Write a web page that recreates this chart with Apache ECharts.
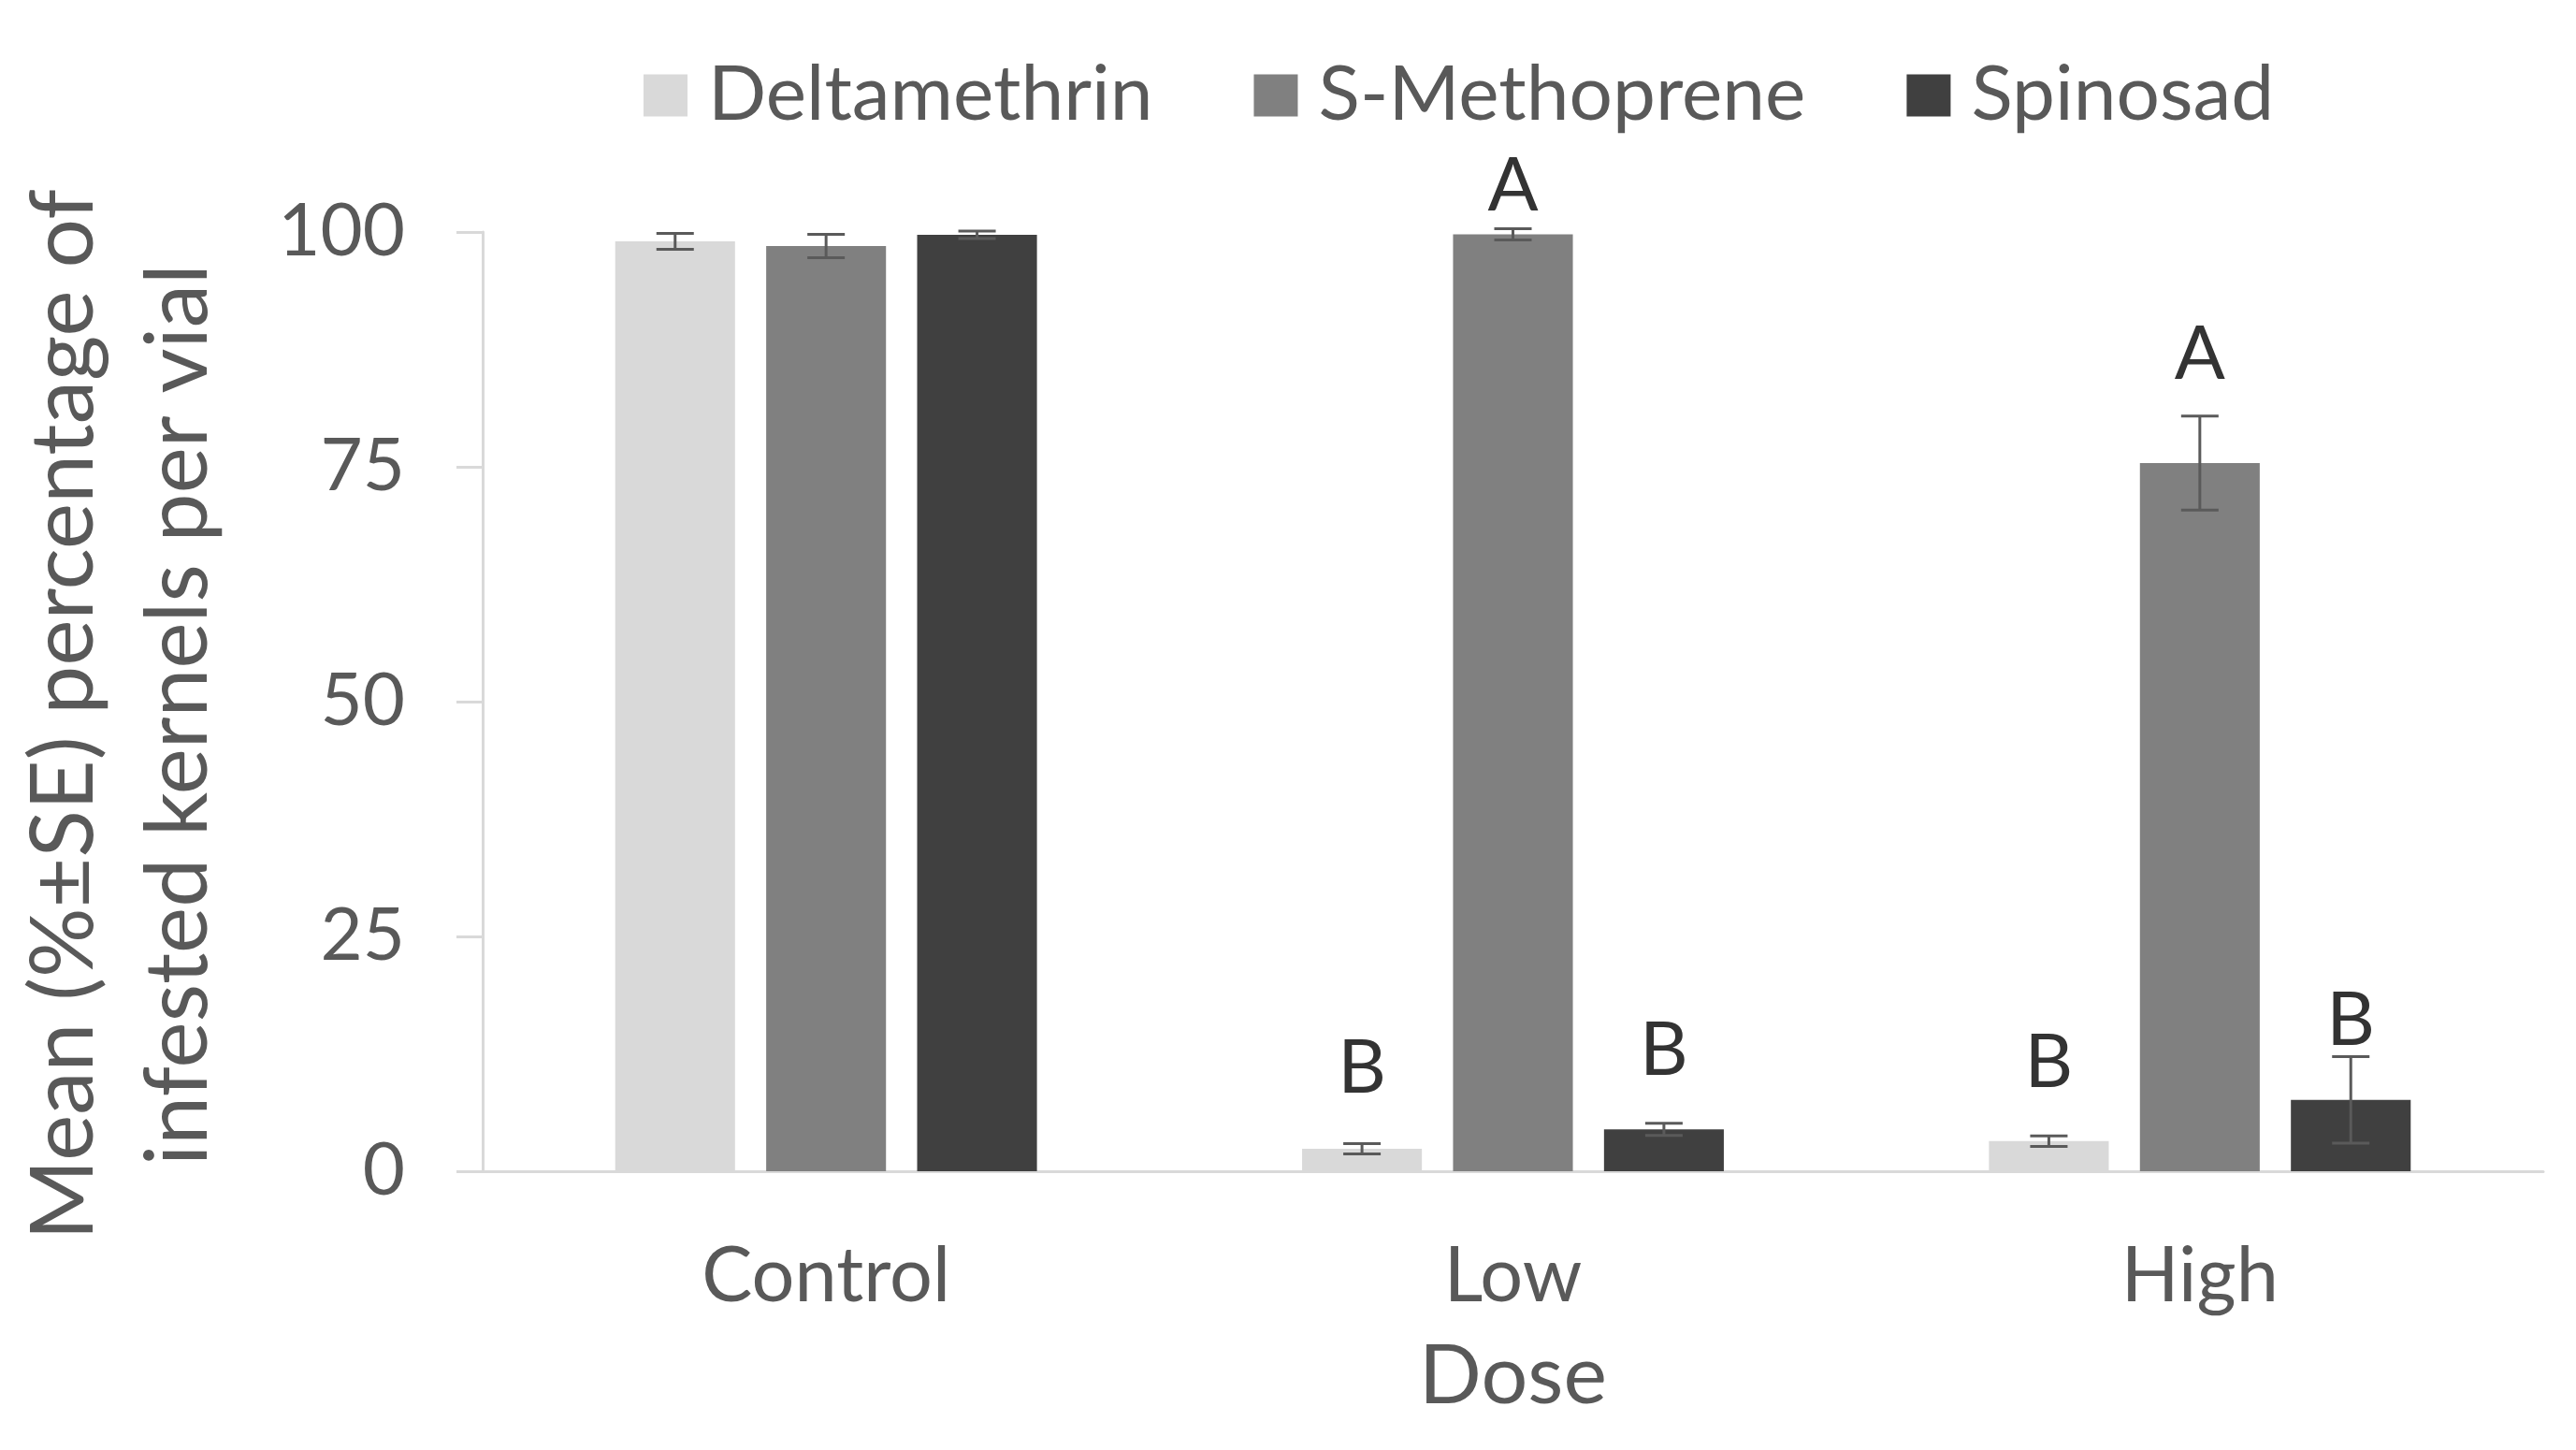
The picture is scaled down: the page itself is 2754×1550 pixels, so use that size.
<!DOCTYPE html>
<html><head><meta charset="utf-8">
<script src="https://cdn.jsdelivr.net/npm/echarts@6/dist/echarts.min.js"></script>
<style>html,body{margin:0;padding:0;background:#fff}#chart{width:2754px;height:1550px}</style>
</head><body><div id="chart"></div>
<script>
// ---- data ----
const categories = ['Control', 'Low', 'High'];
const seriesNames = ['Deltamethrin', 'S-Methoprene', 'Spinosad'];
const deltamethrinMean = [99.0, 2.4, 3.2];
const deltamethrinSE = [0.85, 0.55, 0.55];
const sMethopreneMean = [98.5, 99.75, 75.4];
const sMethopreneSE = [1.25, 0.6, 5.0];
const spinosadMean = [99.7, 4.45, 7.6];
const spinosadSE = [0.4, 0.65, 4.6];
const deltamethrinLetters = ['', 'B', 'B'];
const sMethopreneLetters = ['', 'A', 'A'];
const spinosadLetters = ['', 'B', 'B'];
const yAxisTicks = { min: 0, max: 100, step: 25 };

// ---- styling ----
const FONT = 'Lato';
const colors = ['#D9D9D9', '#808080', '#404040'];
const CAT_GAP = 0.386, BAR_GAP = 0.26;
// pixel offsets of significance letters above error-bar tops (annotation placement)
const letterOffsets = [[0, -80, -78], [0, -45, -66], [0, -78, -38]];

function errSeries(si, means, ses, letters) {
  return {
    type: 'custom', name: 'err' + si, z: 10, silent: true,
    data: means.map((m, i) => [i, m, ses[i]]),
    encode: { x: 0, y: 1 },
    renderItem: function (params, api) {
      const ci = api.value(0), m = api.value(1), se = api.value(2);
      const bandW = api.size([1, 0])[0];
      const barW = bandW * (1 - CAT_GAP) / (3 + 2 * BAR_GAP);
      const x = api.coord([ci, 0])[0] + (si - 1) * barW * (1 + BAR_GAP);
      const yTop = api.coord([ci, m + se])[1];
      const yBot = api.coord([ci, m - se])[1];
      const cap = 20;
      const st = { stroke: '#5a5a5a', lineWidth: 3 };
      const ch = [
        { type: 'line', shape: { x1: x, y1: yTop, x2: x, y2: yBot }, style: st },
        { type: 'line', shape: { x1: x - cap, y1: yTop, x2: x + cap, y2: yTop }, style: st },
        { type: 'line', shape: { x1: x - cap, y1: yBot, x2: x + cap, y2: yBot }, style: st }
      ];
      const L = letters[params.dataIndex];
      if (L) {
        ch.push({ type: 'text', x: x, y: yTop + letterOffsets[si][params.dataIndex],
          style: { text: L, fill: '#333333', fontSize: 80, fontFamily: FONT, align: 'center', verticalAlign: 'middle' } });
      }
      return { type: 'group', children: ch };
    }
  };
}

const chart = echarts.init(document.getElementById('chart'), null, { renderer: 'canvas' });
const barCommon = { type: 'bar', barCategoryGap: (CAT_GAP * 100) + '%', barGap: (BAR_GAP * 100) + '%' };
chart.setOption({
  backgroundColor: '#ffffff',
  animation: false,
  textStyle: { fontFamily: FONT },
  legend: {
    data: seriesNames, left: 683, top: 56,
    itemWidth: 47, itemHeight: 45, itemGap: 108,
    icon: 'rect',
    textStyle: { fontSize: 82, color: '#595959', fontFamily: FONT, padding: [0, 0, 0, 17] }
  },
  grid: { left: 511, right: 35, top: 248, bottom: 298, containLabel: false },
  xAxis: {
    type: 'category', data: categories,
    name: 'Dose', nameLocation: 'middle', nameGap: 176,
    nameTextStyle: { fontSize: 88, color: '#595959', fontFamily: FONT },
    axisLine: { lineStyle: { color: '#D9D9D9', width: 3 } },
    axisTick: { show: false },
    axisLabel: { fontSize: 81, color: '#595959', margin: 72, fontFamily: FONT }
  },
  yAxis: {
    type: 'value', min: yAxisTicks.min, max: yAxisTicks.max, interval: yAxisTicks.step,
    name: 'Mean (%±SE) percentage of\ninfested kernels per vial',
    nameLocation: 'middle', nameGap: 264, nameRotate: 90,
    nameTextStyle: { fontSize: 93, color: '#595959', fontFamily: FONT, lineHeight: 122, padding: [0, 28, 0, 0] },
    axisLine: { show: true, lineStyle: { color: '#D9D9D9', width: 3 } },
    axisTick: { show: true, length: 28, lineStyle: { color: '#D9D9D9', width: 3 } },
    splitLine: { show: false },
    axisLabel: { fontSize: 78, color: '#595959', margin: 83, fontFamily: FONT }
  },
  series: [
    Object.assign({ name: seriesNames[0], data: deltamethrinMean, itemStyle: { color: colors[0] } }, barCommon),
    Object.assign({ name: seriesNames[1], data: sMethopreneMean, itemStyle: { color: colors[1] } }, barCommon),
    Object.assign({ name: seriesNames[2], data: spinosadMean, itemStyle: { color: colors[2] } }, barCommon),
    errSeries(0, deltamethrinMean, deltamethrinSE, deltamethrinLetters),
    errSeries(1, sMethopreneMean, sMethopreneSE, sMethopreneLetters),
    errSeries(2, spinosadMean, spinosadSE, spinosadLetters)
  ]
});
</script></body></html>
